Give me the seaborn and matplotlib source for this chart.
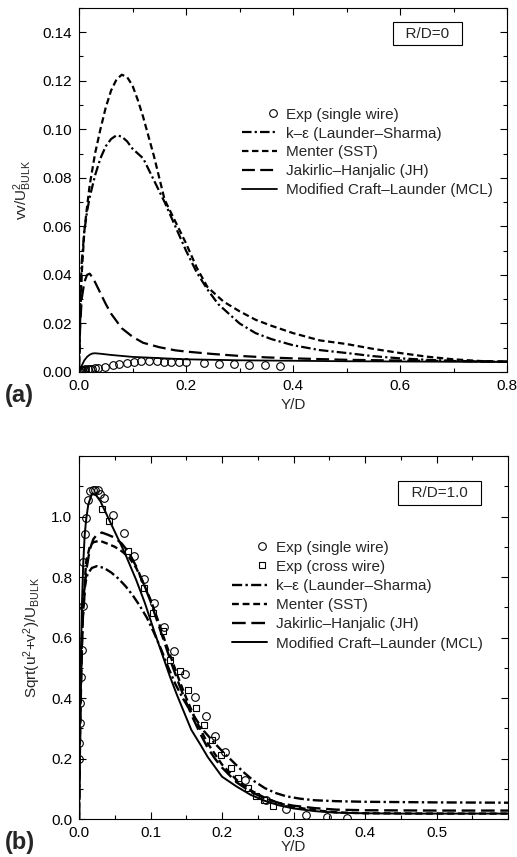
import numpy as np
import matplotlib
matplotlib.use("Agg")
import matplotlib.pyplot as plt
from matplotlib.legend_handler import HandlerLine2D
from matplotlib.ticker import MultipleLocator
import seaborn as sns


sns.set_theme(style="ticks")
plt.rcParams["font.family"] = ["Liberation Sans", "DejaVu Sans"]
plt.rcParams["mathtext.default"] = "regular"

# ---- panel (a): R/D = 0, vv/U^2 ----
a_exp_x = [0.0, 0.002, 0.004, 0.006, 0.009, 0.012, 0.016, 0.020, 0.025, 0.030, 0.036,
           0.049, 0.063, 0.075, 0.089, 0.102, 0.116, 0.130, 0.145, 0.158, 0.172, 0.186,
           0.200, 0.234, 0.262, 0.290, 0.318, 0.348, 0.375]
a_exp_y = [0.0002, 0.0004, 0.0006, 0.0008, 0.0010, 0.0011, 0.0012, 0.0013, 0.0014, 0.0015,
           0.0017, 0.0022, 0.0029, 0.0033, 0.0038, 0.0040, 0.0044, 0.0044, 0.0044, 0.0043,
           0.0042, 0.0041, 0.0040, 0.0036, 0.0033, 0.0032, 0.0030, 0.0029, 0.0026]

a_ke_x = [0, 0.002, 0.005, 0.01, 0.015, 0.02, 0.03, 0.04, 0.05, 0.06, 0.07, 0.08, 0.09, 0.10,
          0.12, 0.14, 0.16, 0.18, 0.20, 0.22, 0.24, 0.26, 0.28, 0.30, 0.33, 0.36, 0.40, 0.45,
          0.50, 0.55, 0.60, 0.65, 0.70, 0.75, 0.80]
a_ke_y = [0, 0.025, 0.045, 0.058, 0.066, 0.072, 0.081, 0.088, 0.093, 0.096, 0.0975, 0.097,
          0.095, 0.092, 0.088, 0.079, 0.070, 0.060, 0.050, 0.041, 0.034, 0.028, 0.024, 0.020,
          0.016, 0.0135, 0.011, 0.009, 0.0078, 0.0065, 0.0056, 0.0050, 0.0046, 0.0043, 0.0042]

a_sst_x = [0, 0.002, 0.005, 0.01, 0.015, 0.02, 0.03, 0.04, 0.05, 0.06, 0.07, 0.08, 0.09, 0.10,
           0.11, 0.12, 0.14, 0.16, 0.18, 0.20, 0.22, 0.24, 0.27, 0.30, 0.33, 0.36, 0.40, 0.45,
           0.50, 0.55, 0.60, 0.65, 0.70, 0.75, 0.80]
a_sst_y = [0, 0.02, 0.04, 0.058, 0.068, 0.077, 0.090, 0.100, 0.109, 0.116, 0.1205, 0.1225,
           0.1215, 0.118, 0.112, 0.105, 0.089, 0.071, 0.062, 0.053, 0.043, 0.035, 0.029,
           0.025, 0.0215, 0.019, 0.016, 0.013, 0.0115, 0.0095, 0.0078, 0.0063, 0.0052,
           0.0045, 0.0042]

a_jh_x = [0, 0.002, 0.005, 0.01, 0.015, 0.02, 0.025, 0.03, 0.04, 0.05, 0.06, 0.07, 0.08,
          0.10, 0.12, 0.15, 0.18, 0.20, 0.25, 0.30, 0.35, 0.40, 0.50, 0.60, 0.70, 0.80]
a_jh_y = [0, 0.018, 0.030, 0.037, 0.040, 0.0405, 0.039, 0.037, 0.0325, 0.028, 0.024, 0.021,
          0.018, 0.0145, 0.012, 0.0102, 0.0089, 0.0084, 0.0074, 0.0066, 0.0060, 0.0056,
          0.0050, 0.0047, 0.0045, 0.0043]

a_mcl_x = [0, 0.003, 0.006, 0.01, 0.015, 0.02, 0.025, 0.03, 0.04, 0.06, 0.08, 0.10, 0.15,
           0.20, 0.30, 0.40, 0.50, 0.60, 0.70, 0.80]
a_mcl_y = [0, 0.0015, 0.0030, 0.0048, 0.0062, 0.0071, 0.0076, 0.0077, 0.0075, 0.0070,
           0.0066, 0.0062, 0.0057, 0.0052, 0.0048, 0.0046, 0.0044, 0.0043, 0.0042, 0.0041]

# ---- panel (b): R/D = 1.0, sqrt(u^2+v^2)/U ----
b_single_x = [0.0, 0.0, 0.0014, 0.002, 0.0033, 0.004, 0.005, 0.006, 0.008, 0.010, 0.013,
              0.015, 0.019, 0.022, 0.027, 0.030, 0.035, 0.048, 0.063, 0.077, 0.091, 0.105,
              0.119, 0.133, 0.148, 0.162, 0.177, 0.190, 0.204, 0.232, 0.262, 0.290, 0.317,
              0.347, 0.375]
b_single_y = [0.198, 0.251, 0.317, 0.383, 0.469, 0.560, 0.704, 0.848, 0.941, 0.994, 1.055,
              1.085, 1.088, 1.088, 1.087, 1.074, 1.060, 1.006, 0.944, 0.870, 0.794, 0.715,
              0.634, 0.557, 0.480, 0.405, 0.341, 0.275, 0.220, 0.129, 0.063, 0.032, 0.013,
              0.008, 0.004]

b_cross_x = [0.032, 0.042, 0.069, 0.091, 0.104, 0.117, 0.127, 0.141, 0.152, 0.163, 0.175,
             0.186, 0.199, 0.212, 0.222, 0.236, 0.247, 0.259, 0.271]
b_cross_y = [1.024, 0.985, 0.886, 0.765, 0.682, 0.621, 0.527, 0.488, 0.428, 0.366, 0.312,
             0.262, 0.212, 0.168, 0.135, 0.102, 0.076, 0.063, 0.043]

b_ke_x = [0, 0.001, 0.003, 0.005, 0.008, 0.012, 0.018, 0.025, 0.035, 0.045, 0.055, 0.065,
          0.075, 0.085, 0.095, 0.105, 0.115, 0.125, 0.135, 0.145, 0.155, 0.165, 0.175, 0.19,
          0.20, 0.215, 0.23, 0.245, 0.26, 0.275, 0.29, 0.31, 0.33, 0.36, 0.40, 0.45, 0.50,
          0.60]
b_ke_y = [0, 0.25, 0.50, 0.65, 0.77, 0.81, 0.83, 0.836, 0.83, 0.815, 0.795, 0.77, 0.74,
          0.705, 0.665, 0.615, 0.56, 0.50, 0.445, 0.40, 0.36, 0.325, 0.29, 0.25, 0.225, 0.19,
          0.155, 0.125, 0.102, 0.086, 0.075, 0.067, 0.062, 0.059, 0.057, 0.056, 0.055, 0.054]

b_sst_x = [0, 0.002, 0.005, 0.01, 0.015, 0.02, 0.029, 0.04, 0.05, 0.06, 0.07, 0.08, 0.09,
           0.10, 0.11, 0.12, 0.13, 0.14, 0.15, 0.16, 0.17, 0.18, 0.19, 0.20, 0.22, 0.24,
           0.26, 0.28, 0.30, 0.33, 0.36, 0.40, 0.50, 0.60]
b_sst_y = [0, 0.40, 0.68, 0.85, 0.90, 0.915, 0.92, 0.91, 0.90, 0.885, 0.865, 0.83, 0.78,
           0.725, 0.66, 0.59, 0.525, 0.46, 0.40, 0.345, 0.295, 0.25, 0.215, 0.18, 0.13,
           0.095, 0.07, 0.052, 0.040, 0.029, 0.022, 0.019, 0.018, 0.018]

b_jh_x = [0, 0.002, 0.005, 0.01, 0.015, 0.02, 0.025, 0.032, 0.04, 0.05, 0.06, 0.07, 0.08,
          0.09, 0.10, 0.11, 0.12, 0.13, 0.14, 0.15, 0.16, 0.17, 0.18, 0.19, 0.20, 0.22,
          0.24, 0.26, 0.28, 0.30, 0.33, 0.36, 0.40, 0.50, 0.60]
b_jh_y = [0, 0.35, 0.65, 0.82, 0.89, 0.925, 0.94, 0.947, 0.94, 0.93, 0.91, 0.88, 0.835,
          0.78, 0.72, 0.65, 0.58, 0.51, 0.445, 0.385, 0.33, 0.28, 0.235, 0.20, 0.17, 0.122,
          0.09, 0.068, 0.053, 0.044, 0.036, 0.031, 0.029, 0.028, 0.028]

b_mcl_x = [0, 0.001, 0.002, 0.004, 0.006, 0.008, 0.010, 0.013, 0.018, 0.024, 0.030, 0.040,
           0.050, 0.064, 0.080, 0.092, 0.106, 0.117, 0.127, 0.137, 0.1455, 0.157, 0.17, 0.18,
           0.20, 0.22, 0.24, 0.26, 0.28, 0.30, 0.33, 0.36, 0.40, 0.45, 0.50, 0.60]
b_mcl_y = [0, 0.25, 0.45, 0.70, 0.85, 0.94, 0.99, 1.04, 1.075, 1.07, 1.05, 1.0, 0.95, 0.88,
           0.79, 0.715, 0.615, 0.54, 0.472, 0.41, 0.361, 0.295, 0.245, 0.205, 0.14, 0.108,
           0.08, 0.06, 0.045, 0.035, 0.026, 0.021, 0.019, 0.018, 0.018, 0.018]

LABEL_KE = "k\u2013\u03b5 (Launder\u2013Sharma)"
LABEL_SST = "Menter (SST)"
LABEL_JH = "Jakirlic\u2013Hanjalic (JH)"
LABEL_MCL = "Modified Craft\u2013Launder (MCL)"

LS_KE = (0, (4.3, 1.4, 1.0, 1.4))
LS_SST = (0, (2.9, 1.6))
LS_JH = (0, (5.8, 2.4))
FS = 11


class MarkerRight(HandlerLine2D):
    # put the legend symbol right next to its text, like the original figure
    def get_xdata(self, legend, xdescent, ydescent, width, height, fontsize):
        x = width - xdescent - 0.3 * fontsize
        return np.array([x, x]), np.array([x])


def draw_line(ax, x, y, ls, label, lw=1.6):
    sns.lineplot(x=x, y=y, ax=ax, color="black", linestyle=ls, linewidth=lw,
                 estimator=None, sort=False, label=label)


def draw_points(ax, x, y, marker, label, ms=5.5):
    sns.lineplot(x=x, y=y, ax=ax, color="black", linestyle="none", marker=marker,
                 markersize=ms, markerfacecolor="none", markeredgecolor="black",
                 markeredgewidth=0.8, estimator=None, sort=False, label=label)


def style_axis(ax):
    ax.tick_params(which="both", direction="in", top=True, right=True, labelsize=FS,
                   width=0.8, colors="black", pad=5)
    ax.tick_params(which="major", length=5)
    ax.tick_params(which="minor", length=3)
    for sp in ax.spines.values():
        sp.set_visible(True)
        sp.set_linewidth(0.8)
        sp.set_color("black")


fig = plt.figure(figsize=(5.17, 8.57), dpi=100)
ax_a = fig.add_axes([0.1528, 0.566, 0.828, 0.4247])
ax_b = fig.add_axes([0.1528, 0.0443, 0.83, 0.4236])

# panel (a)
draw_points(ax_a, a_exp_x, a_exp_y, "o", "Exp (single wire)")
draw_line(ax_a, a_ke_x, a_ke_y, LS_KE, LABEL_KE)
draw_line(ax_a, a_sst_x, a_sst_y, LS_SST, LABEL_SST)
draw_line(ax_a, a_jh_x, a_jh_y, LS_JH, LABEL_JH)
draw_line(ax_a, a_mcl_x, a_mcl_y, "-", LABEL_MCL, lw=1.3)
ax_a.set_xlim(0, 0.8)
ax_a.set_ylim(0, 0.15)
ax_a.set_xticks([0.0, 0.2, 0.4, 0.6, 0.8])
ax_a.set_yticks(np.arange(0, 0.141, 0.02))
ax_a.xaxis.set_minor_locator(MultipleLocator(0.1))
ax_a.yaxis.set_minor_locator(MultipleLocator(0.01))
ax_a.set_xticklabels(["0.0", "0.2", "0.4", "0.6", "0.8"])
ax_a.set_yticklabels([f"{v:.2f}" for v in np.arange(0, 0.141, 0.02)])
ax_a.set_xlabel("Y/D", fontsize=FS, labelpad=4)
ax_a.set_ylabel("vv/U$^{2}_{BULK}$", fontsize=FS, labelpad=6)
style_axis(ax_a)
ax_a.legend(loc="upper left", bbox_to_anchor=(0.381, 0.726), frameon=False, fontsize=FS,
            handlelength=2.3, handletextpad=0.6, labelspacing=0.32, borderpad=0,
            borderaxespad=0, handler_map={ax_a.get_lines()[0]: MarkerRight(numpoints=1)})
ax_a.text(0.814, 0.929, "  R/D=0  ", transform=ax_a.transAxes, ha="center", va="center",
          fontsize=FS, bbox=dict(boxstyle="square,pad=0.3", fc="white", ec="black", lw=0.8))

# panel (b)
draw_points(ax_b, b_single_x, b_single_y, "o", "Exp (single wire)")
draw_points(ax_b, b_cross_x, b_cross_y, "s", "Exp (cross wire)", ms=5)
draw_line(ax_b, b_ke_x, b_ke_y, LS_KE, LABEL_KE, lw=1.7)
draw_line(ax_b, b_sst_x, b_sst_y, LS_SST, LABEL_SST, lw=1.7)
draw_line(ax_b, b_jh_x, b_jh_y, LS_JH, LABEL_JH, lw=1.7)
draw_line(ax_b, b_mcl_x, b_mcl_y, "-", LABEL_MCL, lw=1.4)
ax_b.set_xlim(0, 0.6)
ax_b.set_ylim(0, 1.2)
ax_b.set_xticks([0.0, 0.1, 0.2, 0.3, 0.4, 0.5])
ax_b.set_yticks([0.0, 0.2, 0.4, 0.6, 0.8, 1.0])
ax_b.xaxis.set_minor_locator(MultipleLocator(0.05))
ax_b.yaxis.set_minor_locator(MultipleLocator(0.1))
ax_b.set_xticklabels(["0.0", "0.1", "0.2", "0.3", "0.4", "0.5"])
ax_b.set_yticklabels(["0.0", "0.2", "0.4", "0.6", "0.8", "1.0"])
ax_b.set_xlabel("Y/D", fontsize=FS, labelpad=0)
ax_b.set_ylabel("Sqrt(u$^{2}$+v$^{2}$)/U$_{BULK}$", fontsize=FS, labelpad=6)
style_axis(ax_b)
pts = ax_b.get_lines()[:2]
ax_b.legend(loc="upper left", bbox_to_anchor=(0.356, 0.767), frameon=False, fontsize=FS,
            handlelength=2.3, handletextpad=0.6, labelspacing=0.34, borderpad=0,
            borderaxespad=0, handler_map={p: MarkerRight(numpoints=1) for p in pts})
ax_b.text(0.84, 0.898, "  R/D=1.0  ", transform=ax_b.transAxes, ha="center", va="center",
          fontsize=FS, bbox=dict(boxstyle="square,pad=0.3", fc="white", ec="black", lw=0.8))

fig.text(0.01, 1 - 395 / 857, "(a)", fontsize=17, fontweight="bold", va="center")
fig.text(0.01, 1 - 843 / 857, "(b)", fontsize=17, fontweight="bold", va="center")

fig.savefig("out.png", dpi=100)
